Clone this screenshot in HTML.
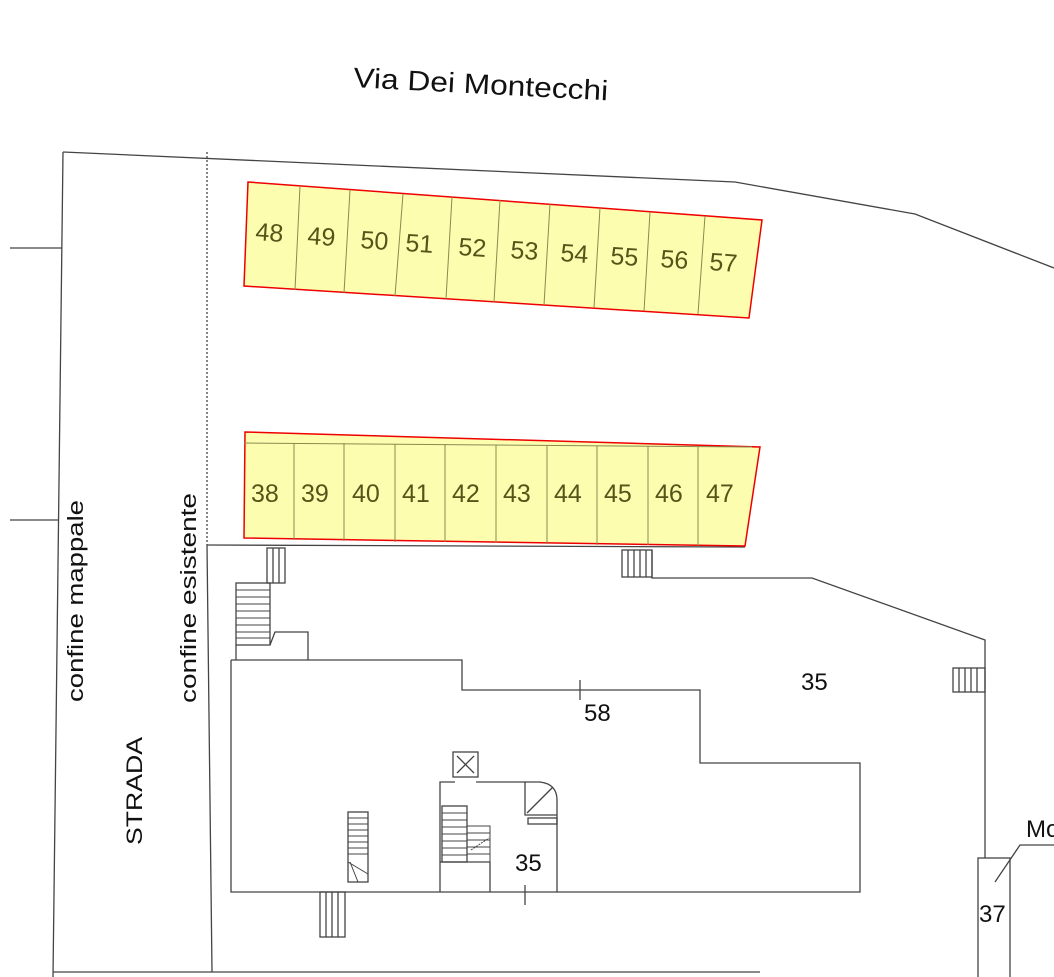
<!DOCTYPE html>
<html><head><meta charset="utf-8"><style>
html,body{margin:0;padding:0;background:#fff;}
svg{display:block;}
text{font-family:"Liberation Sans",Arial,sans-serif;}
</style></head><body>
<svg width="1054" height="977" viewBox="0 0 1054 977" xmlns="http://www.w3.org/2000/svg">
<rect width="1054" height="977" fill="#fff"/>
<g fill="none" stroke="#444" stroke-width="1.3">
<polyline points="63,152 735,182 915,214 1054,268"/>
<polyline points="63,152 53,977"/>
<line x1="10" y1="248" x2="62" y2="248"/>
<line x1="10" y1="520" x2="59" y2="520"/>
<line x1="207" y1="152" x2="207" y2="545" stroke-dasharray="2,2"/>
<polyline points="207,545 212,972"/>
<line x1="53" y1="972" x2="760" y2="972"/>
<polyline points="207,545 745,547"/>
<polyline points="652,550 652,578 812,578 985,640 985,858"/>
<rect x="978" y="858" width="32" height="130"/>
<polyline points="1054,845 1020,845 995,882"/>
<rect x="622" y="550" width="30" height="27"/>
<line x1="628" y1="550" x2="628" y2="577"/><line x1="634" y1="550" x2="634" y2="577"/><line x1="640" y1="550" x2="640" y2="577"/><line x1="646" y1="550" x2="646" y2="577"/>
<rect x="267" y="548" width="18" height="35"/>
<line x1="273" y1="548" x2="273" y2="583"/><line x1="279" y1="548" x2="279" y2="583"/>
<rect x="236" y="583" width="34" height="62"/>
<g stroke-width="1">
<line x1="236" y1="590" x2="270" y2="590"/><line x1="236" y1="597" x2="270" y2="597"/><line x1="236" y1="604" x2="270" y2="604"/><line x1="236" y1="611" x2="270" y2="611"/><line x1="236" y1="618" x2="270" y2="618"/><line x1="236" y1="625" x2="270" y2="625"/><line x1="236" y1="632" x2="270" y2="632"/><line x1="236" y1="638" x2="270" y2="638"/>
</g>
<polyline points="236,645 236,660"/>
<polyline points="270,645 275,632 308,632 308,660"/>
<polyline points="231,660 462,660 462,690 700,690 700,763 860,763 860,892 231,892 231,660"/>
<line x1="580" y1="680" x2="580" y2="700"/>
<line x1="525" y1="885" x2="525" y2="905"/>
<rect x="953" y="668" width="32" height="24"/>
<line x1="959" y1="668" x2="959" y2="692"/><line x1="965" y1="668" x2="965" y2="692"/><line x1="971" y1="668" x2="971" y2="692"/><line x1="977" y1="668" x2="977" y2="692"/>
<rect x="348" y="812" width="20" height="70"/>
<g stroke-width="1">
<line x1="348" y1="818" x2="368" y2="818"/><line x1="348" y1="824" x2="368" y2="824"/><line x1="348" y1="830" x2="368" y2="830"/><line x1="348" y1="836" x2="368" y2="836"/><line x1="348" y1="842" x2="368" y2="842"/><line x1="348" y1="848" x2="368" y2="848"/><line x1="348" y1="854" x2="368" y2="854"/><line x1="348" y1="862" x2="368" y2="874"/><line x1="350" y1="862" x2="358" y2="882"/>
</g>
<rect x="320" y="892" width="25" height="45"/>
<line x1="326" y1="892" x2="326" y2="937"/><line x1="332" y1="892" x2="332" y2="937"/><line x1="338" y1="892" x2="338" y2="937"/>
<polyline points="440,892 440,782 455,782"/>
<rect x="453" y="752" width="25" height="25"/>
<line x1="457" y1="756" x2="474" y2="773"/><line x1="474" y1="756" x2="457" y2="773"/>
<path d="M476,782 L540,782 Q557,784 557,800 L557,892"/>
<polyline points="525,782 525,815 557,815"/>
<line x1="527" y1="813" x2="553" y2="787"/>
<rect x="528" y="818" width="29" height="6"/>
<rect x="442" y="806" width="25" height="56"/>
<g stroke-width="1">
<line x1="442" y1="813" x2="467" y2="813"/><line x1="442" y1="820" x2="467" y2="820"/><line x1="442" y1="827" x2="467" y2="827"/><line x1="442" y1="834" x2="467" y2="834"/><line x1="442" y1="841" x2="467" y2="841"/><line x1="442" y1="848" x2="467" y2="848"/><line x1="442" y1="855" x2="467" y2="855"/>
<rect x="467" y="826" width="23" height="36"/>
<line x1="467" y1="833" x2="490" y2="833"/><line x1="467" y1="840" x2="490" y2="840"/><line x1="467" y1="847" x2="490" y2="847"/><line x1="467" y1="854" x2="490" y2="854"/>
<line x1="471" y1="850" x2="489" y2="838" stroke-dasharray="2,1"/>
</g>
<polyline points="440,862 490,862 490,892"/>
</g>
<polygon points="248,182 762,220 749,318 244,286" fill="#fdfdb0" stroke="#e00" stroke-width="1.5"/>
<g stroke="#8a8a50" stroke-width="1">
<line x1="300" y1="186" x2="295" y2="290"/><line x1="350" y1="190" x2="344" y2="293"/><line x1="403" y1="194" x2="395" y2="296"/><line x1="452" y1="197" x2="446" y2="299"/><line x1="500" y1="200" x2="494" y2="302"/><line x1="550" y1="204" x2="544" y2="305"/><line x1="600" y1="208" x2="594" y2="308"/><line x1="650" y1="212" x2="644" y2="311"/><line x1="705" y1="216" x2="698" y2="314"/>
</g>
<polygon points="245,432 760,447 745,546 244,538" fill="#fdfdb0" stroke="#e00" stroke-width="1.5"/>
<g stroke="#8a8a50" stroke-width="1">
<line x1="244" y1="443" x2="752" y2="447"/>
<line x1="294" y1="443" x2="294" y2="540"/><line x1="344" y1="443" x2="344" y2="541"/><line x1="395" y1="444" x2="395" y2="542"/><line x1="445" y1="444" x2="445" y2="542"/><line x1="496" y1="445" x2="496" y2="543"/><line x1="547" y1="445" x2="547" y2="544"/><line x1="597" y1="446" x2="597" y2="545"/><line x1="648" y1="446" x2="648" y2="545"/><line x1="698" y1="447" x2="698" y2="546"/>
</g>
<g fill="#55551a" font-size="25">
<g transform="rotate(4 255 240)"><text x="255" y="240">48</text></g>
<g transform="rotate(4 307 244)"><text x="307" y="244">49</text></g>
<g transform="rotate(4 360 248)"><text x="360" y="248">50</text></g>
<g transform="rotate(4 405 251)"><text x="405" y="251">51</text></g>
<g transform="rotate(4 458 255)"><text x="458" y="255">52</text></g>
<g transform="rotate(4 510 258)"><text x="510" y="258">53</text></g>
<g transform="rotate(4 560 261)"><text x="560" y="261">54</text></g>
<g transform="rotate(4 610 264)"><text x="610" y="264">55</text></g>
<g transform="rotate(4 660 267)"><text x="660" y="267">56</text></g>
<g transform="rotate(4 709 270)"><text x="709" y="270">57</text></g>
<text x="251" y="502">38</text><text x="301" y="502">39</text><text x="352" y="502">40</text><text x="402" y="502">41</text><text x="452" y="502">42</text><text x="503" y="502">43</text><text x="554" y="502">44</text><text x="604" y="502">45</text><text x="655" y="502">46</text><text x="706" y="502">47</text>
</g>
<g fill="#111" font-size="24">
<text x="353" y="87" transform="rotate(3 353 87)" font-size="28" textLength="255" lengthAdjust="spacingAndGlyphs">Via Dei Montecchi</text>
<text x="801" y="690">35</text>
<text x="584" y="721">58</text>
<text x="515" y="871">35</text>
<text x="979" y="922">37</text>
<text x="1026" y="837">Mo</text>
<text transform="translate(83,702) rotate(-90)" font-size="22" textLength="202" lengthAdjust="spacingAndGlyphs">confine mappale</text>
<text transform="translate(196,703) rotate(-90)" font-size="22" textLength="210" lengthAdjust="spacingAndGlyphs">confine esistente</text>
<text transform="translate(142,845) rotate(-90)" font-size="22" textLength="108" lengthAdjust="spacingAndGlyphs">STRADA</text>
</g>
</svg>
</body></html>
